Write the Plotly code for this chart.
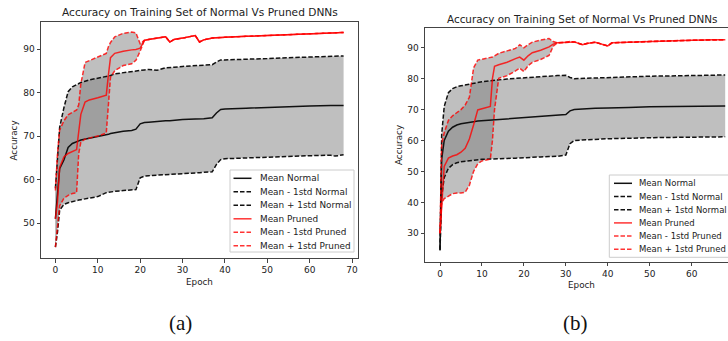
import plotly.graph_objects as go

# ---------------- data: panel (a) ----------------
epochs_a = [0, 0.5, 1, 2, 3, 4, 5, 5.5, 6, 7, 8, 10, 12, 12.5, 13, 14, 16, 18, 19, 20,
            21, 22, 24, 26, 27, 28, 30, 33, 34, 35, 37, 38, 39, 40, 45, 50, 55, 60, 65, 66, 68]

mean_normal_a = [51, 57, 62.5, 64.5, 67.4, 68.3, 68.8, 68.9, 69.1, 69.3, 69.5, 69.8, 70.3, 70.4, 70.6,
                 70.8, 71.1, 71.3, 71.6, 72.8, 73.1, 73.2, 73.4, 73.5, 73.5, 73.6, 73.8, 73.9, 73.9,
                 74.0, 74.2, 75.3, 76.1, 76.2, 76.4, 76.6, 76.8, 76.9, 77.0, 77.0, 77.0]
lower_normal_a = [44.5, 48, 53, 54.3, 54.7, 55.0, 55.2, 55.3, 55.4, 55.6, 55.8, 56.1, 57.0, 57.1, 57.2,
                  57.3, 57.5, 57.6, 57.7, 60.4, 60.8, 60.9, 61.0, 61.1, 61.1, 61.2, 61.3, 61.5, 61.6,
                  61.7, 61.8, 63.5, 64.6, 64.8, 65.0, 65.2, 65.4, 65.5, 65.6, 65.4, 65.7]
upper_normal_a = [58, 66, 72, 76.5, 80.2, 81.3, 81.9, 82.1, 82.3, 82.6, 82.9, 83.3, 83.7, 83.8, 83.9,
                  84.3, 84.6, 84.9, 85.0, 85.1, 85.2, 85.3, 85.1, 85.7, 85.7, 85.8, 86.0, 86.2, 86.2,
                  86.3, 86.4, 87.0, 87.5, 87.5, 87.6, 87.8, 88.0, 88.1, 88.3, 88.2, 88.4]
mean_pruned_a = [51, 55, 62.8, 65.2, 66.0, 66.5, 66.9, 71.0, 75.0, 77.8, 78.3, 78.8, 79.4, 84.0, 88.0,
                 89.0, 89.5, 89.8, 89.9, 90.2, 92.0, 92.2, 92.5, 92.8, 91.6, 92.2, 92.5, 93.1, 91.6,
                 92.1, 92.5, 92.6, 92.6, 92.7, 92.9, 93.1, 93.3, 93.5, 93.7, 93.7, 93.8]
lower_pruned_a = [44.5, 50, 54, 55.7, 56.4, 56.8, 57.0, 66.0, 68.6, 69.3, 69.5, 70.0, 70.7, 77.0, 83.5,
                  85.0, 86.2, 86.6, 87.4, 89.5, 92.0, 92.2, 92.5, 92.8, 91.6, 92.2, 92.5, 93.1, 91.6,
                  92.1, 92.5, 92.6, 92.6, 92.7, 92.9, 93.1, 93.3, 93.5, 93.7, 93.7, 93.8]
upper_pruned_a = [57.5, 66, 71.4, 73.5, 74.9, 75.5, 76.0, 77.2, 82.0, 86.9, 87.3, 88.2, 89.0, 90.5, 91.5,
                  92.8, 93.6, 93.9, 93.7, 91.2, 92.0, 92.2, 92.5, 92.8, 91.6, 92.2, 92.5, 93.1, 91.6,
                  92.1, 92.5, 92.6, 92.6, 92.7, 92.9, 93.1, 93.3, 93.5, 93.7, 93.7, 93.8]

# ---------------- data: panel (b) ----------------
epochs_b = [0, 0.4, 1, 2, 3, 4, 5, 6, 7, 8, 9, 10, 12, 12.5, 13, 14, 16, 18, 19, 20,
            21, 22, 24, 26, 27, 28, 30, 31, 32, 34, 35, 37, 40, 41, 45, 50, 55, 60, 65, 68]

mean_normal_b = [24.5, 54, 60, 63, 64.3, 65.0, 65.4, 65.7, 65.9, 66.1, 66.3, 66.4, 66.6, 66.65, 66.7,
                 66.8, 67.0, 67.2, 67.3, 67.4, 67.5, 67.6, 67.7, 67.9, 68.0, 68.1, 68.4, 69.6, 70.0,
                 70.2, 70.3, 70.4, 70.5, 70.5, 70.7, 70.9, 71.0, 71.1, 71.2, 71.2]
lower_normal_b = [24.5, 42, 48, 51, 52.2, 52.8, 53.1, 53.3, 53.5, 53.6, 53.8, 53.9, 54.0, 54.0, 54.1,
                  54.1, 54.2, 54.3, 54.4, 54.5, 54.5, 54.6, 54.7, 54.8, 54.8, 54.9, 55.3, 59.0, 60.0,
                  60.2, 60.3, 60.4, 60.6, 60.6, 60.8, 60.9, 61.0, 61.1, 61.2, 61.2]
upper_normal_b = [25, 62, 71, 75.5, 76.8, 77.4, 77.7, 78.0, 78.2, 78.6, 78.8, 79.0, 79.3, 79.4, 79.5,
                  79.6, 79.9, 80.1, 80.2, 80.4, 80.5, 80.6, 80.7, 80.9, 81.0, 81.0, 81.1, 80.4, 80.0,
                  80.1, 80.2, 80.3, 80.4, 80.4, 80.6, 80.8, 80.9, 81.0, 81.1, 81.2]
mean_pruned_b = [30, 38, 51.6, 54.3, 55.0, 55.4, 56.2, 57.5, 60.5, 65.0, 69.9, 70.3, 71.0, 80.0, 84.0,
                 84.5, 85.3, 86.5, 87.0, 86.0, 87.4, 88.4, 89.2, 90.3, 91.2, 91.6, 91.8, 92.0, 91.9,
                 91.0, 91.4, 91.8, 90.6, 91.6, 91.8, 92.1, 92.3, 92.4, 92.6, 92.6]
lower_pruned_b = [30, 39.8, 41.2, 42.0, 42.8, 43.0, 43.0, 43.3, 45.5, 50.0, 52.5, 53.4, 54.0, 60.0, 70.0,
                  80.1, 81.0, 82.5, 83.4, 82.3, 84.2, 85.3, 86.2, 87.5, 90.5, 91.6, 91.8, 92.0, 91.9,
                  91.0, 91.4, 91.8, 90.6, 91.6, 91.8, 92.1, 92.3, 92.4, 92.6, 92.6]
upper_pruned_b = [30, 59, 62.5, 66.5, 68.0, 69.0, 70.0, 71.5, 74.0, 83.5, 86.0, 86.3, 86.9, 87.0, 87.4,
                  88.2, 89.0, 89.8, 91.0, 90.0, 91.0, 91.8, 92.5, 93.0, 92.0, 91.6, 91.8, 92.0, 91.9,
                  91.0, 91.4, 91.8, 90.6, 91.6, 91.8, 92.1, 92.3, 92.4, 92.6, 92.6]

x_ticks_a = [0, 10, 20, 30, 40, 50, 60, 70]
y_ticks_a = [50, 60, 70, 80, 90]
x_ticks_b = [0, 10, 20, 30, 40, 50, 60]
y_ticks_b = [30, 40, 50, 60, 70, 80, 90]

title_text = "Accuracy on Training Set of Normal Vs Pruned DNNs"
legend_labels = ["Mean Normal", "Mean - 1std Normal", "Mean + 1std Normal",
                 "Mean Pruned", "Mean - 1std Pruned", "Mean + 1std Pruned"]
captions = ["(a)", "(b)"]

# ---------------- styling ----------------
W, H = 728, 341
FONT = "DejaVu Sans"
BLACK = "#111111"
RED = "rgba(255,0,0,0.8)"
FILL = "rgba(128,128,128,0.5)"
DASH = "4.5px,2px"
LW = 1.5
styles = [(BLACK, "solid"), (BLACK, DASH), (BLACK, DASH),
          (RED, "solid"), (RED, DASH), (RED, DASH)]


def pxx(x):
    return x / W


def pyy(y):
    return 1 - y / H


fig = go.Figure()


def add_panel(ep, series, xa, ya):
    mn, lo, up, mp, lp, upp = series
    for low, high in ((lo, up), (lp, upp)):
        fig.add_trace(go.Scatter(
            x=list(ep) + list(ep)[::-1], y=list(high) + list(low)[::-1],
            fill="toself", fillcolor=FILL, mode="lines", line=dict(width=0),
            hoverinfo="skip", showlegend=False, xaxis=xa, yaxis=ya))
    for s, (col, dash), name in zip(series, styles, legend_labels):
        fig.add_trace(go.Scatter(
            x=ep, y=s, mode="lines", name=name, showlegend=False,
            line=dict(color=col, width=LW, dash=dash), xaxis=xa, yaxis=ya))


add_panel(epochs_a, [mean_normal_a, lower_normal_a, upper_normal_a,
                     mean_pruned_a, lower_pruned_a, upper_pruned_a], "x", "y")
add_panel(epochs_b, [mean_normal_b, lower_normal_b, upper_normal_b,
                     mean_pruned_b, lower_pruned_b, upper_pruned_b], "x2", "y2")

axis_common = dict(showline=True, linecolor="#444444", linewidth=1, ticks="outside",
                   ticklen=3.5, tickcolor="#444444", showgrid=False, zeroline=False,
                   tickfont=dict(family=FONT, size=9, color="#222222"))

fig.update_layout(
    width=W, height=H, margin=dict(l=0, r=0, t=0, b=0),
    paper_bgcolor="white", plot_bgcolor="white", showlegend=False,
    xaxis=dict(domain=[pxx(41), pxx(358)], range=[-3.4, 71.4], tickvals=x_ticks_a,
               mirror=True, anchor="y", **axis_common),
    yaxis=dict(domain=[pyy(258), pyy(22)], range=[42.0, 96.2], tickvals=y_ticks_a,
               mirror=True, anchor="x", **axis_common),
    xaxis2=dict(domain=[pxx(425), 1.0], range=[-3.58, 68.67], tickvals=x_ticks_b,
                mirror=True, anchor="y2", **axis_common),
    yaxis2=dict(domain=[pyy(261.7), pyy(28.3)], range=[20.8, 96.3], tickvals=y_ticks_b,
                mirror=False, anchor="x2", **axis_common),
)

annotations = []
shapes = []


def text(x, y, s, size, family=FONT, color="#222222", xanchor="center", **kw):
    annotations.append(dict(x=pxx(x), y=pyy(y), xref="paper", yref="paper", text=s,
                            showarrow=False, xanchor=xanchor, yanchor="middle",
                            font=dict(family=family, size=size, color=color), **kw))


# titles, axis titles, captions
text(199.5, 12.5, title_text, 10.6)
text(582, 19, title_text, 10.4)
text(199.5, 282, "Epoch", 8.8)
text(581, 284.5, "Epoch", 8.8)
text(13.5, 141, "Accuracy", 8.8, textangle=-90)
text(399, 145, "Accuracy", 8.8, textangle=-90)
text(180, 323, captions[0], 21, family="Liberation Serif", color="#111111")
text(575, 323, captions[1], 21, family="Liberation Serif", color="#111111")


def legend(x0, y0, x1, y1, rows_y, sx0, sx1, tx, fsize):
    shapes.append(dict(type="rect", xref="paper", yref="paper",
                       x0=pxx(x0), x1=pxx(x1), y0=pyy(y1), y1=pyy(y0),
                       fillcolor="rgba(255,255,255,0.8)", line=dict(color="#cccccc", width=1)))
    for ry, (col, dash), lab in zip(rows_y, styles, legend_labels):
        shapes.append(dict(type="line", xref="paper", yref="paper",
                           x0=pxx(sx0), x1=pxx(sx1), y0=pyy(ry), y1=pyy(ry),
                           line=dict(color=col, width=LW, dash=dash)))
        text(tx, ry, lab, fsize, xanchor="left")


legend(230, 170, 354, 252, [178.3, 191.8, 205.3, 218.8, 232.3, 245.8], 233.5, 251.5, 257.5, 8.9)
legend(609.3, 175, 735, 257.3, [183.3, 196.5, 209.7, 222.9, 236.1, 249.3], 614, 632, 636.5, 8.5)

fig.update_layout(annotations=annotations, shapes=shapes)
fig.write_html("out.html")
